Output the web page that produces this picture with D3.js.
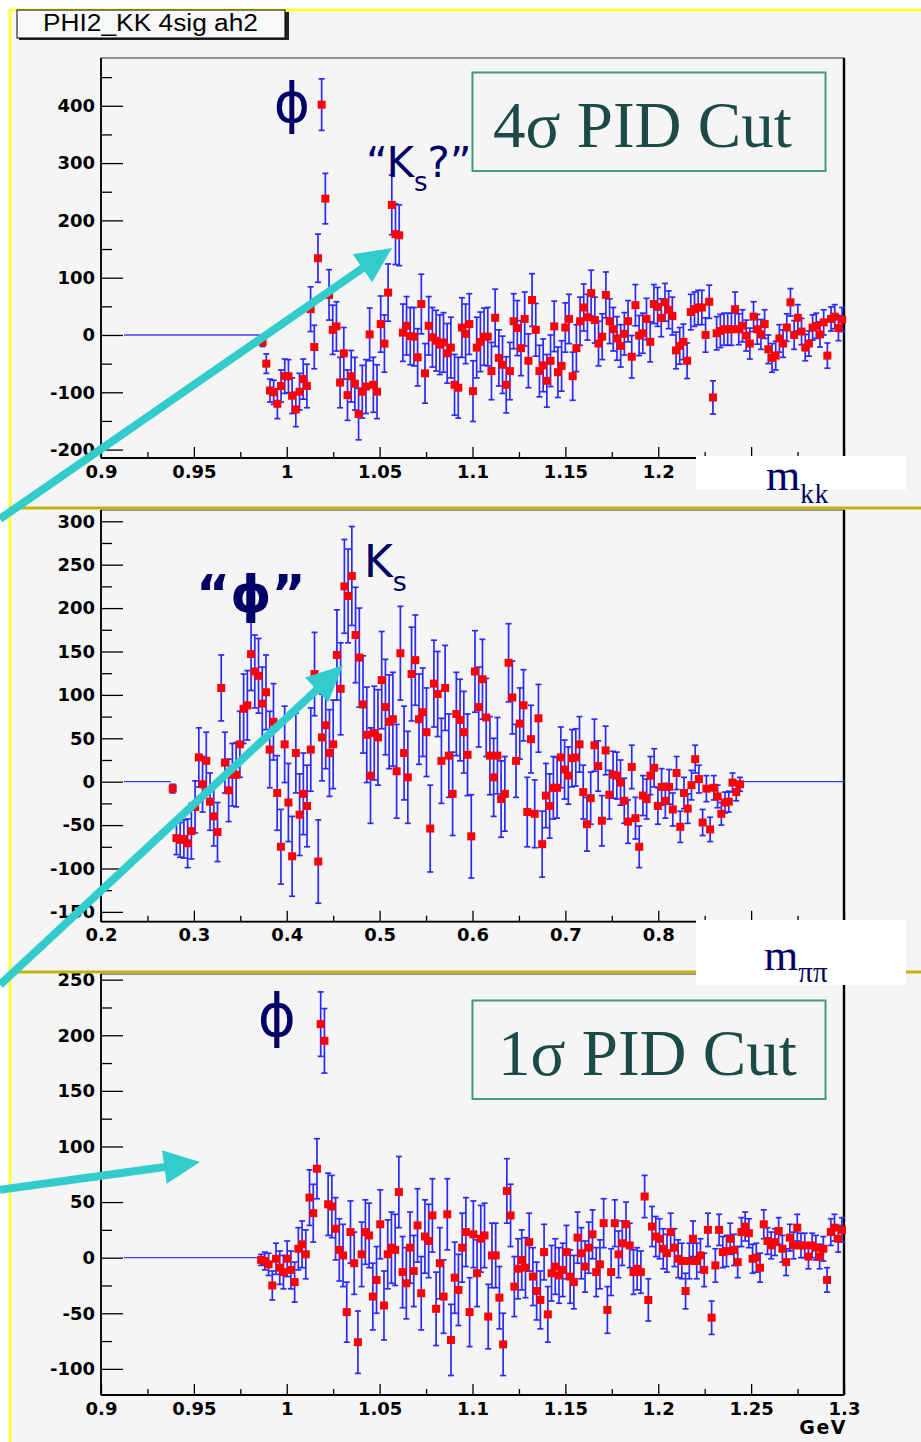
<!DOCTYPE html>
<html>
<head>
<meta charset="utf-8">
<script src="https://cdn.jsdelivr.net/npm/d3@7"></script>
<style>
    body { margin: 0; background: #fff; }
    .tick text { font-family: "DejaVu Sans"; font-weight: bold; font-size: 18px; fill: #000; }
    .tick line { stroke: #000; stroke-width: 1.3; }
    .domain { display: none; }
</style>
</head>
<body>
<div id="chart"></div>
<script>
// ---- data ----
// panel 1: m_KK, 4 sigma PID cut (bins from 0.987 to 1.299 GeV)
const kk4Counts = [-12, -50, -97, -100, -120, -89, -72, -72, -106, -130,
    -99, -77, -89, 45, -21, 134, 402, 238, 70, 9,
    15, -83, -32, -105, -72, -85, -138, -99, -90, 1,
    -87, -99, 19, -15, 74, 227, 176, 174, 4, 16,
    -2, -3, -39, 54, -67, 16, -4, -10, -17, -13,
    -32, -22, -87, -92, 13, 2, 19, -98, -22, -12,
    -3, -3, -63, 30, -40, -52, -87, -63, 24, 12,
    -23, 28, -45, 61, 9, -63, -53, -80, -45, 15,
    -65, -54, 13, 28, -72, -23, 24, 48, 31, 73,
    26, -15, -3, 70, 24, 10, -6, -19, 2, 24,
    -38, 52, -1, 3, 28, -12, 54, 49, 30, 57,
    44, 33, -27, -19, -12, -45, 40, 45, 48, 48,
    0, 58, -109, 3, 7, 10, 10, 10, 45, 10,
    16, -1, -15, 32, 10, 1, 19, -25, -40, -36,
    -6, -15, 13, 57, 0, 30, 6, -22, -15, 13,
    16, 1, 22, -36, 28, 32, 12, 27];
const kk4Errors = [8, 17, 20, 21, 26, 28, 30, 29, 31, 30,
    32, 35, 38, 39, 38, 42, 45, 44, 44, 43,
    43, 44, 45, 44, 45, 46, 45, 46, 47, 46,
    48, 47, 49, 50, 50, 52, 53, 53, 50, 51,
    50, 51, 50, 52, 52, 51, 52, 53, 52, 52,
    52, 53, 53, 53, 52, 52, 53, 53, 53, 52,
    50, 51, 50, 50, 49, 50, 49, 50, 48, 48,
    48, 47, 47, 46, 46, 45, 46, 46, 45, 44,
    44, 44, 43, 43, 42, 41, 42, 41, 40, 40,
    40, 39, 40, 40, 39, 38, 38, 37, 37, 36,
    37, 36, 35, 35, 36, 35, 34, 34, 33, 33,
    33, 33, 32, 32, 31, 31, 31, 30, 30, 30,
    30, 29, 29, 29, 29, 28, 28, 28, 30, 27,
    28, 27, 27, 26, 26, 26, 25, 25, 25, 25,
    24, 24, 24, 24, 25, 23, 23, 23, 22, 22,
    22, 22, 22, 22, 21, 21, 22, 21];

// panel 2: m_pipi (bins from 0.277 to 0.888 GeV)
const pipiCounts = [-8, -65, -67, -66, -71, -57, -29, 28, -3, 24,
    -23, -40, -58, 108, 22, -10, 8, 8, 43, 84,
    88, 147, 127, 122, 90, 103, 37, 69, -13, -75,
    43, -24, -86, 33, -38, -14, -28, 37, 124, -92,
    51, 65, 33, 43, 146, 107, 225, 214, 237, 169,
    143, 89, 54, 7, 56, 51, 117, 86, 69, 72,
    12, 148, 33, 5, 124, 140, 72, 80, 57, -54,
    113, 101, 24, 108, 30, -14, 78, 71, 57, 31,
    -63, 127, 86, 118, 74, 30, 5, 30, -20, -14,
    137, 97, 24, 67, 88, -35, 49, -37, 73, -72,
    -16, -28, -7, -7, 28, 14, 7, 27, 28, 43,
    -12, -49, -19, 42, 18, -45, 36, -15, 8, 7,
    -1, -22, -46, 17, -42, -75, -16, -20, 7, 16,
    -28, -6, -22, -6, -32, 10, -52, -13, -31, -4,
    26, 3, -47, -8, -55, -7, -17, -37, -24, -23,
    -1, -12, -3];
const pipiErrors = [5, 19, 20, 22, 28, 32, 30, 34, 32, 33,
    33, 34, 34, 38, 35, 36, 36, 37, 38, 40,
    40, 42, 42, 43, 42, 43, 44, 44, 43, 43,
    44, 45, 46, 46, 47, 47, 47, 48, 48, 48,
    50, 50, 50, 51, 52, 53, 54, 54, 57, 55,
    57, 56, 55, 55, 54, 55, 56, 55, 54, 54,
    54, 54, 54, 53, 54, 52, 52, 51, 51, 50,
    50, 49, 49, 49, 48, 48, 48, 47, 47, 47,
    48, 47, 46, 46, 45, 45, 45, 44, 44, 43,
    45, 42, 42, 41, 41, 40, 39, 39, 39, 38,
    37, 37, 36, 35, 35, 34, 33, 33, 33, 32,
    31, 31, 30, 30, 29, 29, 28, 28, 27, 27,
    26, 26, 25, 25, 24, 24, 23, 23, 22, 22,
    21, 21, 20, 20, 19, 19, 18, 18, 17, 17,
    16, 16, 15, 15, 14, 14, 13, 13, 12, 12,
    11, 10, 8];

// panel 3: m_KK, 1 sigma PID cut (bins from 0.986 to 1.299 GeV)
const kk1Counts = [-2, -3, -6, -25, -1, -9, -13, -1, -11, -22,
    8, 12, 3, 54, 40, 80, 210, 195, 48, 46,
    26, 7, 2, -49, 23, -5, -76, 3, 23, 20,
    -35, -20, 30, -43, 3, 9, 7, 59, -13, -23,
    9, -12, 29, -32, 19, 15, 38,
    -46, -5, -35, 39, -74, -18, -29, 9, 23, -49,
    21, -14, 17, 20, -53, 2, 2, -36, -78, 60,
    38, -26, -10, -2, -9, 14, -17, -30, -38, 5,
    -51, -14, -8, -16, -11, 5, -17, -22, 18, 4,
    -8, 9, 21, -13, -6, 31, -47, -13, 31, 3,
    13, 30, 11, -13, -10, -13, 55, -38, 28, 19,
    17, 8, 4, 23, 9, -1, -3, -30, -3, 17,
    -3, 2, -11, 25, -54, -7, 25, 5, 6, 17,
    7, -4, 23, 28, 22, -1, 0, -9, 30, 15,
    11, 14, 24, 8, -4, 18, 11, 27, 11, 11,
    1, 11, 9, 1, 8, -20, 23, 27, 17, 25];
const kk1Errors = [5, 8, 10, 13, 14, 15, 15, 16, 17, 18,
    19, 21, 22, 25, 26, 27, 29, 29, 28, 28,
    28, 28, 28, 27, 28, 28, 28, 29, 29, 29,
    30, 30, 31, 31, 31, 32, 32, 32, 32, 32,
    32, 32, 33, 33, 33, 33, 33,
    33, 32, 33, 32, 32, 32, 32, 31, 31, 31,
    30, 30, 30, 29, 29, 29, 29, 28, 28, 29,
    28, 27, 27, 27, 27, 26, 26, 26, 26, 25,
    25, 25, 25, 25, 24, 24, 24, 24, 23, 23,
    23, 23, 22, 22, 22, 22, 21, 21, 21, 21,
    20, 20, 20, 20, 19, 19, 19, 19, 18, 18,
    18, 18, 17, 17, 17, 17, 16, 16, 16, 16,
    16, 15, 15, 15, 15, 15, 14, 14, 14, 14,
    14, 14, 13, 13, 13, 13, 13, 13, 13, 12,
    12, 12, 12, 12, 12, 12, 12, 12, 11, 11,
    11, 11, 11, 11, 11, 11, 12, 12, 12, 11];

// tick values (marks) and the labels that show
const kkXTicks = [0.9, 0.95, 1, 1.05, 1.1, 1.15, 1.2, 1.25, 1.3];
const kkXMinor = [0.925, 0.975, 1.025, 1.075, 1.125, 1.175, 1.225, 1.275];
const kk4XLabels = [0.9, 0.95, 1, 1.05, 1.1, 1.15, 1.2];
const kk1XLabels = [0.9, 0.95, 1, 1.05, 1.1, 1.15, 1.2, 1.25, 1.3];
const pipiXTicks = [0.2, 0.3, 0.4, 0.5, 0.6, 0.7, 0.8, 0.9, 1];
const pipiXMinor = [0.25, 0.35, 0.45, 0.55, 0.65, 0.75, 0.85, 0.95];
const pipiXLabels = [0.2, 0.3, 0.4, 0.5, 0.6, 0.7, 0.8];
const kk4YTicks = [-200, -100, 0, 100, 200, 300, 400];
const kk4YMinor = [-150, -50, 50, 150, 250, 350, 450];
const pipiYTicks = [-150, -100, -50, 0, 50, 100, 150, 200, 250, 300];
const pipiYMinor = [-125, -75, -25, 25, 75, 125, 175, 225, 275];
const kk1YTicks = [-100, -50, 0, 50, 100, 150, 200, 250];
const kk1YMinor = [-75, -25, 25, 75, 125, 175, 225];

const W = 921, H = 1442;
const left = 101, right = 844;
const navy = "#000066", teal = "#33cccc";

let svg = d3.select("#chart")
    .append("svg")
    .attr("width", W)
    .attr("height", H)
    .style("display", "block");

// page background and yellow border
svg.append("rect").attr("width", W).attr("height", H).attr("fill", "#fff");
svg.append("rect").attr("x", 10).attr("y", 10).attr("width", W - 10).attr("height", H - 10).attr("fill", "#f5f5f5");
svg.append("line").attr("x1", 10).attr("x2", 10).attr("y1", 9).attr("y2", H)
    .attr("stroke", "#ffff3a").attr("stroke-width", 3);
svg.append("line").attr("x1", 9).attr("x2", W).attr("y1", 10).attr("y2", 10)
    .attr("stroke", "#ffff3a").attr("stroke-width", 3);

function draw_panel(param) {
    svg.append("clipPath").attr("id", "clip_" + param.name)
        .append("rect")
        .attr("x", 11).attr("y", param.clip[0])
        .attr("width", W - 11).attr("height", param.clip[1] - param.clip[0]);

    let g = svg.append("g").attr("clip-path", "url(#clip_" + param.name + ")");

    let x = d3.scaleLinear().domain(param.xDomain).range([left, right]);
    let y = d3.scaleLinear().domain(param.yDomain).range([param.bottom, param.top]);

    g.append("rect")
        .attr("x", left).attr("y", param.top)
        .attr("width", right - left).attr("height", param.bottom - param.top)
        .attr("fill", "none").attr("stroke", "#555").attr("stroke-width", 1.2);

    // y ticks, pointing into the frame
    g.append("g")
        .attr("transform", "translate(" + left + ",0)")
        .call(d3.axisLeft(y).tickValues(param.yMinor).tickSizeInner(-11).tickSizeOuter(0).tickFormat(""));
    g.append("g")
        .attr("transform", "translate(" + left + ",0)")
        .call(d3.axisLeft(y)
            .tickValues(param.yTicks)
            .tickSizeInner(-22)
            .tickSizeOuter(0)
            .tickPadding(6)
            .tickFormat(d => String(d)));

    // x ticks; labels hidden by the axis-name box are left out
    g.append("g")
        .attr("transform", "translate(0," + param.bottom + ")")
        .call(d3.axisBottom(x).tickValues(param.xMinor).tickSizeInner(-6).tickSizeOuter(0).tickFormat(""));
    g.append("g")
        .attr("transform", "translate(0," + param.bottom + ")")
        .call(d3.axisBottom(x)
            .tickValues(param.xTicks)
            .tickSizeInner(-11)
            .tickSizeOuter(0)
            .tickPadding(7)
            .tickFormat(d => param.xLabels.includes(d) ? String(d) : ""));

    g.append("line").attr("x1", left).attr("x2", left).attr("y1", param.top).attr("y2", param.bottom)
        .attr("stroke", "#000").attr("stroke-width", 1.8);
    g.append("line").attr("x1", left).attr("x2", right).attr("y1", param.bottom).attr("y2", param.bottom)
        .attr("stroke", "#000").attr("stroke-width", 1.8);
    g.append("line").attr("x1", right).attr("x2", right).attr("y1", param.top).attr("y2", param.bottom)
        .attr("stroke", "#000").attr("stroke-width", 2.4);

    const n = param.counts.length;
    const step = (param.last - param.first) / (n - 1);
    const bins = param.counts.map((v, i) => ({m: param.first + i * step, v: v, e: param.errors[i]}));

    // empty bins drawn as a flat line at zero
    g.append("line")
        .attr("x1", x(param.histLo)).attr("x2", x(param.first - step / 2))
        .attr("y1", y(0)).attr("y2", y(0))
        .attr("stroke", "#3d3dff").attr("stroke-width", 1.3);
    if (param.histHi) {
        g.append("line")
            .attr("x1", x(param.last + step / 2)).attr("x2", x(param.histHi))
            .attr("y1", y(0)).attr("y2", y(0))
            .attr("stroke", "#3d3dff").attr("stroke-width", 1.3);
    }

    let bars = g.append("g").attr("stroke", "#2a2aff").attr("stroke-width", 1.7);
    bars.selectAll("line.err")
        .data(bins).enter().append("line")
        .attr("class", "err")
        .attr("x1", d => x(d.m)).attr("x2", d => x(d.m))
        .attr("y1", d => y(d.v - d.e)).attr("y2", d => y(d.v + d.e));
    bars.selectAll("line.capTop")
        .data(bins).enter().append("line")
        .attr("class", "capTop")
        .attr("x1", d => x(d.m) - 3).attr("x2", d => x(d.m) + 3)
        .attr("y1", d => y(d.v + d.e)).attr("y2", d => y(d.v + d.e));
    bars.selectAll("line.capBot")
        .data(bins).enter().append("line")
        .attr("class", "capBot")
        .attr("x1", d => x(d.m) - 3).attr("x2", d => x(d.m) + 3)
        .attr("y1", d => y(d.v - d.e)).attr("y2", d => y(d.v - d.e));

    g.append("g").selectAll("rect")
        .data(bins).enter().append("rect")
        .attr("x", d => x(d.m) - 4).attr("y", d => y(d.v) - 4)
        .attr("width", 8).attr("height", 8)
        .attr("fill", "#ff0000");

    return {x: x, y: y};
}

let p1 = draw_panel({
    name: "kk4", counts: kk4Counts, errors: kk4Errors, first: 0.987, last: 1.299,
    histLo: 0.9124, xDomain: [0.9, 1.3], yDomain: [-214.7, 483.4], top: 58, bottom: 458,
    clip: [11, 507], xTicks: kkXTicks, xMinor: kkXMinor, xLabels: kk4XLabels,
    yTicks: kk4YTicks, yMinor: kk4YMinor
});
let p2 = draw_panel({
    name: "pipi", counts: pipiCounts, errors: pipiErrors, first: 0.2772, last: 0.888,
    histLo: 0.2248, histHi: 1.0, xDomain: [0.2, 1.0], yDomain: [-161.3, 313], top: 510, bottom: 921.7,
    clip: [508, 973], xTicks: pipiXTicks, xMinor: pipiXMinor, xLabels: pipiXLabels,
    yTicks: pipiYTicks, yMinor: pipiYMinor
});
let p3 = draw_panel({
    name: "kk1", counts: kk1Counts, errors: kk1Errors, first: 0.9862, last: 1.2989,
    histLo: 0.9124, xDomain: [0.9, 1.3], yDomain: [-123.5, 255.1], top: 974, bottom: 1395,
    clip: [973, H], xTicks: kkXTicks, xMinor: kkXMinor, xLabels: kk1XLabels,
    yTicks: kk1YTicks, yMinor: kk1YMinor
});

// olive separators between the stacked pictures
[508, 972].forEach(function (yy) {
    svg.append("line").attr("x1", 9).attr("x2", W).attr("y1", yy).attr("y2", yy)
        .attr("stroke", "#bcb70a").attr("stroke-width", 3);
});

// axis name boxes
svg.append("rect").attr("x", 696).attr("y", 456).attr("width", 210).attr("height", 34).attr("fill", "#fff");
svg.append("rect").attr("x", 696).attr("y", 920).attr("width", 210).attr("height", 65).attr("fill", "#fff");

let mkk = svg.append("text").attr("x", 766).attr("y", 490)
    .attr("font-family", "Liberation Serif").attr("font-size", 44).attr("fill", navy);
mkk.append("tspan").text("m");
mkk.append("tspan").attr("dy", 13).attr("font-size", 27).attr("letter-spacing", 1).text("kk");

let mpp = svg.append("text").attr("x", 764).attr("y", 970)
    .attr("font-family", "Liberation Serif").attr("font-size", 44).attr("fill", navy);
mpp.append("tspan").text("m");
mpp.append("tspan").attr("dy", 12).attr("font-size", 29).text("ππ");

svg.append("text").attr("x", 847).attr("y", 1434).attr("text-anchor", "end")
    .attr("font-family", "DejaVu Sans").attr("font-weight", "bold").attr("font-size", 19)
    .attr("letter-spacing", 1.5).attr("fill", "#000").text("GeV");

// PID cut boxes
[[72.5, 147, "4σ PID Cut", 493], [1000.5, 1075, "1σ PID Cut", 498]].forEach(function (b) {
    svg.append("rect").attr("x", 472.5).attr("y", b[0]).attr("width", 353).attr("height", 98.5)
        .attr("fill", "none").attr("stroke", "#3f9d78").attr("stroke-width", 2);
    svg.append("text").attr("x", b[3]).attr("y", b[1])
        .attr("font-family", "Liberation Serif").attr("font-size", 65).attr("fill", "#1b4a47")
        .text(b[2]);
});

// peak labels
svg.append("text").attr("x", 292).attr("y", 122).attr("text-anchor", "middle")
    .attr("font-family", "DejaVu Sans").attr("font-size", 55).attr("fill", navy).text("ϕ");
svg.append("text").attr("x", 277).attr("y", 1036).attr("text-anchor", "middle")
    .attr("font-family", "DejaVu Sans").attr("font-size", 58).attr("fill", navy).text("ϕ");
svg.append("text").attr("x", 196).attr("y", 612)
    .attr("font-family", "DejaVu Sans").attr("font-weight", "bold").attr("font-size", 52)
    .attr("fill", navy).text("“ϕ”");

let ks1 = svg.append("text").attr("x", 366).attr("y", 177)
    .attr("font-family", "DejaVu Sans").attr("font-size", 42).attr("fill", navy);
ks1.append("tspan").text("“K");
ks1.append("tspan").attr("dy", 14).attr("font-size", 26).text("s");
ks1.append("tspan").attr("dy", -14).text("?”");

let ks2 = svg.append("text").attr("x", 364).attr("y", 577)
    .attr("font-family", "DejaVu Sans").attr("font-size", 44).attr("fill", navy);
ks2.append("tspan").text("K");
ks2.append("tspan").attr("dy", 14).attr("font-size", 27).text("s");

// arrows, tip and tail in each panel's data units
function draw_arrow(tail, tip) {
    const dx = tip[0] - tail[0], dy = tip[1] - tail[1];
    const len = Math.hypot(dx, dy), ux = dx / len, uy = dy / len;
    const headLen = 36, half = 17;
    const bx = tip[0] - ux * headLen, by = tip[1] - uy * headLen;
    svg.append("line")
        .attr("x1", tail[0]).attr("y1", tail[1])
        .attr("x2", bx + ux * 4).attr("y2", by + uy * 4)
        .attr("stroke", teal).attr("stroke-width", 8);
    svg.append("polygon")
        .attr("points", [[tip[0], tip[1]], [bx - uy * half, by + ux * half], [bx + uy * half, by - ux * half]].join(" "))
        .attr("fill", teal);
}
draw_arrow([p1.x(0.8456), p1.y(-321)], [p1.x(1.0567), p1.y(152)]);
draw_arrow([p2.x(0.0912), p2.y(-234)], [p2.x(0.4606), p2.y(134)]);
draw_arrow([p3.x(0.8456), p3.y(61)], [p3.x(0.9533), p3.y(86)]);

// histogram title box
svg.append("rect").attr("x", 19).attr("y", 12).attr("width", 270).attr("height", 28).attr("fill", "#222");
svg.append("rect").attr("x", 17).attr("y", 10).attr("width", 268).attr("height", 28)
    .attr("fill", "#f8f8f8").attr("stroke", "#000").attr("stroke-width", 1);
svg.append("text").attr("x", 43).attr("y", 31)
    .attr("font-family", "Liberation Sans").attr("font-size", 23)
    .attr("textLength", 215).attr("lengthAdjust", "spacingAndGlyphs")
    .attr("fill", "#000").text("PHI2_KK 4sig ah2");
</script>
</body>
</html>
